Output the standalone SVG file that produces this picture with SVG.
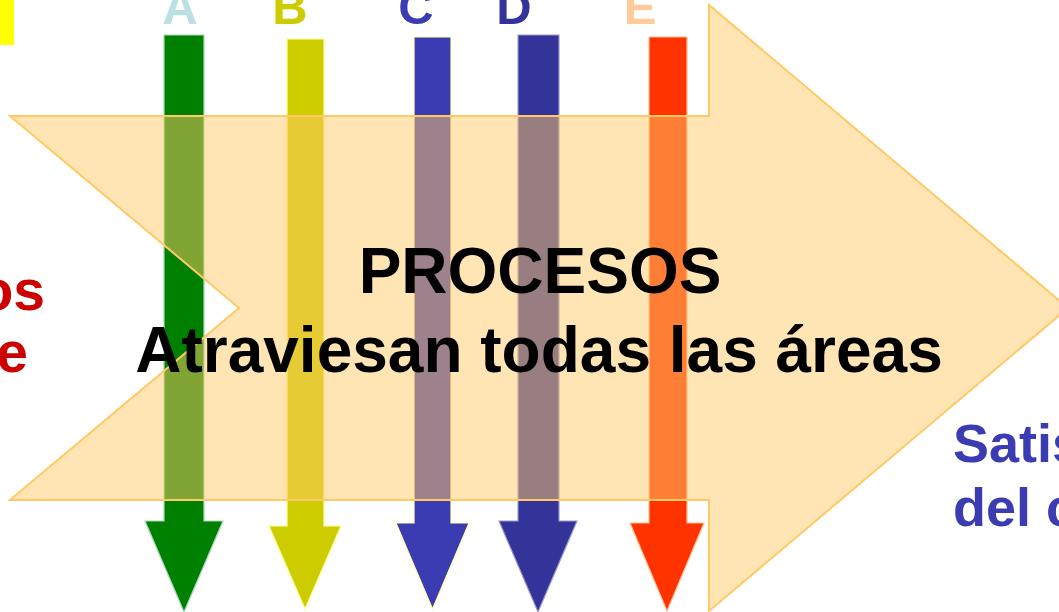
<svg xmlns="http://www.w3.org/2000/svg" width="1059" height="612" viewBox="0 0 1059 612">
<style>
.lbl{font-family:"Liberation Sans",Arial,sans-serif;font-weight:bold;font-size:49px;text-anchor:middle}
.main{font-family:"Liberation Sans",Arial,sans-serif;font-weight:bold;font-size:64px;text-anchor:middle;fill:#000}
.side{font-family:"Liberation Sans",Arial,sans-serif;font-weight:bold;font-size:57px}
.side2{font-family:"Liberation Sans",Arial,sans-serif;font-weight:bold;font-size:54px}
.arr{stroke-width:1.2}
</style>
<rect width="1059" height="612" fill="#fff"/>
<rect id="marker-yellow" x="0" y="0" width="14" height="45" fill="#FFFF00"/>
<g id="connectors">
<g id="arrow-A"><polygon class="arr" points="164,35 204,35 204,521 223,521 184,612 145,521 164,521" fill="#008000" stroke="#A8D8B8"/></g>
<g id="arrow-B"><polygon class="arr" points="287,39 324,39 324,526 341,526 305,609 269,526 287,526" fill="#CCCC00" stroke="#FFFF99"/></g>
<g id="arrow-C"><polygon class="arr" points="414,37 451,37 451,523 469,523 432.5,609 396,523 414,523" fill="#3B3BB2" stroke="#FFFFAA"/></g>
<g id="arrow-D"><polygon class="arr" points="518,35 559,35 559,521 577,521 538,612 499,521 518,521" fill="#333399" stroke="#9999CC"/></g>
<g id="arrow-E"><polygon class="arr" points="649,37 687,37 687,523 704,523 667,611 630,523 649,523" fill="#FF3300" stroke="#FFC090"/></g>
</g>
<g id="chevron">
<path d="M10,116 L709,116 L709,5 L1068,308 L709,611 L709,500 L10,500 L239,308 Z" fill="#FFCA6A" fill-opacity="0.5" stroke="#FFC966" stroke-width="2" stroke-linejoin="miter"/>
<text class="main" x="540" y="293">PROCESOS</text>
<text class="main" x="539" y="372">Atraviesan todas las áreas</text>
</g>
<g id="labels">
<text id="label-A" class="lbl" x="180" y="24" fill="#BBE0E3">A</text>
<text id="label-B" class="lbl" x="290" y="24" fill="#CCCC00">B</text>
<text id="label-C" class="lbl" x="416" y="24" fill="#3B3BB2">C</text>
<text id="label-D" class="lbl" x="514" y="24" fill="#333399">D</text>
<text id="label-E" class="lbl" x="640" y="24" fill="#FFCC99">E</text>
</g>
<g id="left-text" class="side" fill="#CC0000" text-anchor="end">
<text x="45" y="310">os</text>
<text x="28" y="372">e</text>
</g>
<g id="right-text" class="side2" fill="#3B3BB2">
<text x="953" y="462">Satis</text>
<text x="953" y="526">del c</text>
</g>
</svg>
